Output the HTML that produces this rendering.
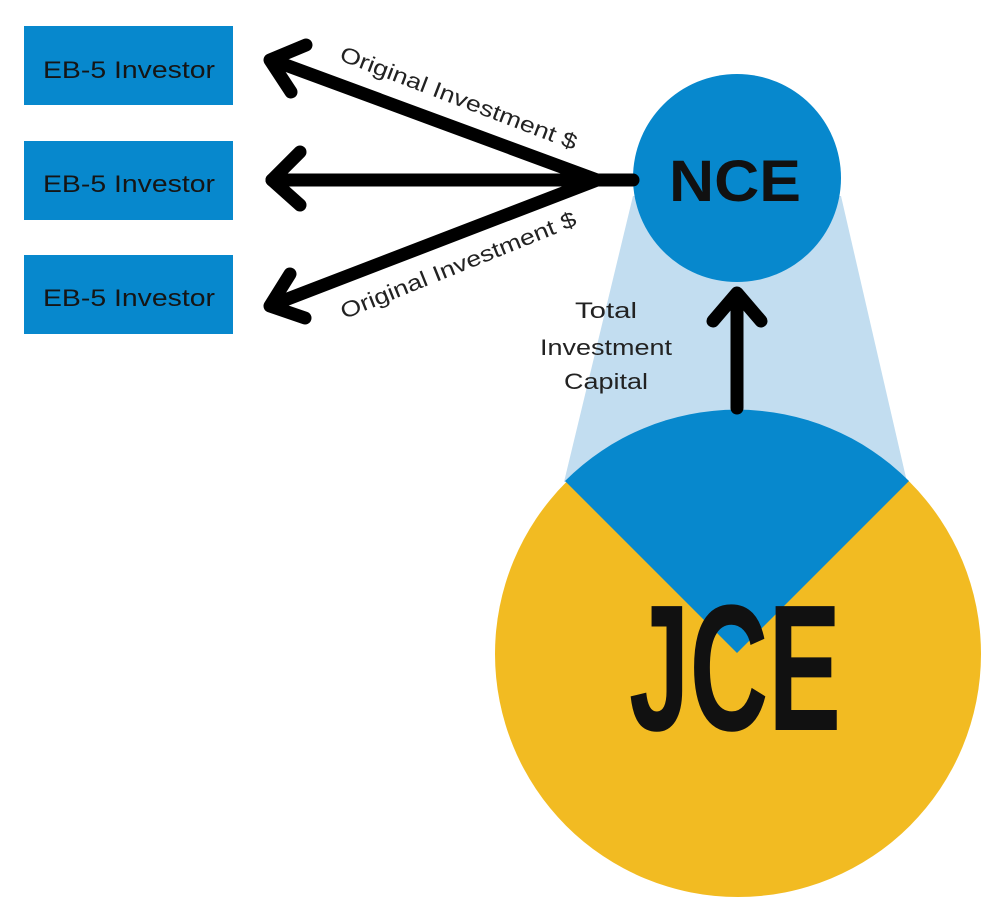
<!DOCTYPE html>
<html><head><meta charset="utf-8"><style>
html,body{margin:0;padding:0;background:#fff;}
svg{display:block;}
text{font-family:"Liberation Sans",sans-serif;}
</style></head><body>
<svg width="1000" height="914" viewBox="0 0 1000 914" xmlns="http://www.w3.org/2000/svg">
<polygon points="633,196 841,196 907,482 564,482" fill="#c2ddf0"/>
<circle cx="738" cy="654" r="243" fill="#f2bb22"/>
<path d="M737,653 L565,481 A243,243 0 0 1 909,481 Z" fill="#0788cd"/>
<circle cx="737" cy="178" r="104" fill="#0788cd"/>
<text x="735" y="201" font-size="58" font-weight="bold" text-anchor="middle" fill="#111" textLength="132" lengthAdjust="spacingAndGlyphs">NCE</text>
<text x="735" y="730" font-size="180" font-weight="bold" text-anchor="middle" fill="#111" textLength="212" lengthAdjust="spacingAndGlyphs">JCE</text>
<g fill="#0788cd">
<rect x="24" y="26" width="209" height="79"/>
<rect x="24" y="141" width="209" height="79"/>
<rect x="24" y="255" width="209" height="79"/>
</g>
<g font-size="24" fill="#151515" text-anchor="middle">
<text x="129" y="78" textLength="172" lengthAdjust="spacingAndGlyphs">EB-5 Investor</text>
<text x="129" y="192" textLength="172" lengthAdjust="spacingAndGlyphs">EB-5 Investor</text>
<text x="129" y="306" textLength="172" lengthAdjust="spacingAndGlyphs">EB-5 Investor</text>
</g>
<g stroke="#000" stroke-width="13" stroke-linecap="round" stroke-linejoin="round" fill="none">
<line x1="633" y1="180" x2="597" y2="180"/>
<line x1="597" y1="180" x2="272" y2="60"/>
<line x1="597" y1="180" x2="272" y2="180"/>
<line x1="597" y1="180" x2="272" y2="305"/>
<polyline points="306,45 270,60 291,92"/>
<polyline points="300,152 272,180 300,205"/>
<polyline points="290,274 270,306 305,318"/>
<line x1="737" y1="408" x2="737" y2="295"/>
<polyline points="713,321 737,293 761,321"/>
</g>
<g font-size="22" fill="#222" text-anchor="middle">
<text transform="translate(456,105) rotate(21)" textLength="252" lengthAdjust="spacingAndGlyphs">Original Investment $</text>
<text transform="translate(461,272) rotate(-22)" textLength="252" lengthAdjust="spacingAndGlyphs">Original Investment $</text>
<text x="606" y="318" textLength="62" lengthAdjust="spacingAndGlyphs">Total</text>
<text x="606" y="355" textLength="132" lengthAdjust="spacingAndGlyphs">Investment</text>
<text x="606" y="389" textLength="84" lengthAdjust="spacingAndGlyphs">Capital</text>
</g>
</svg>
</body></html>
